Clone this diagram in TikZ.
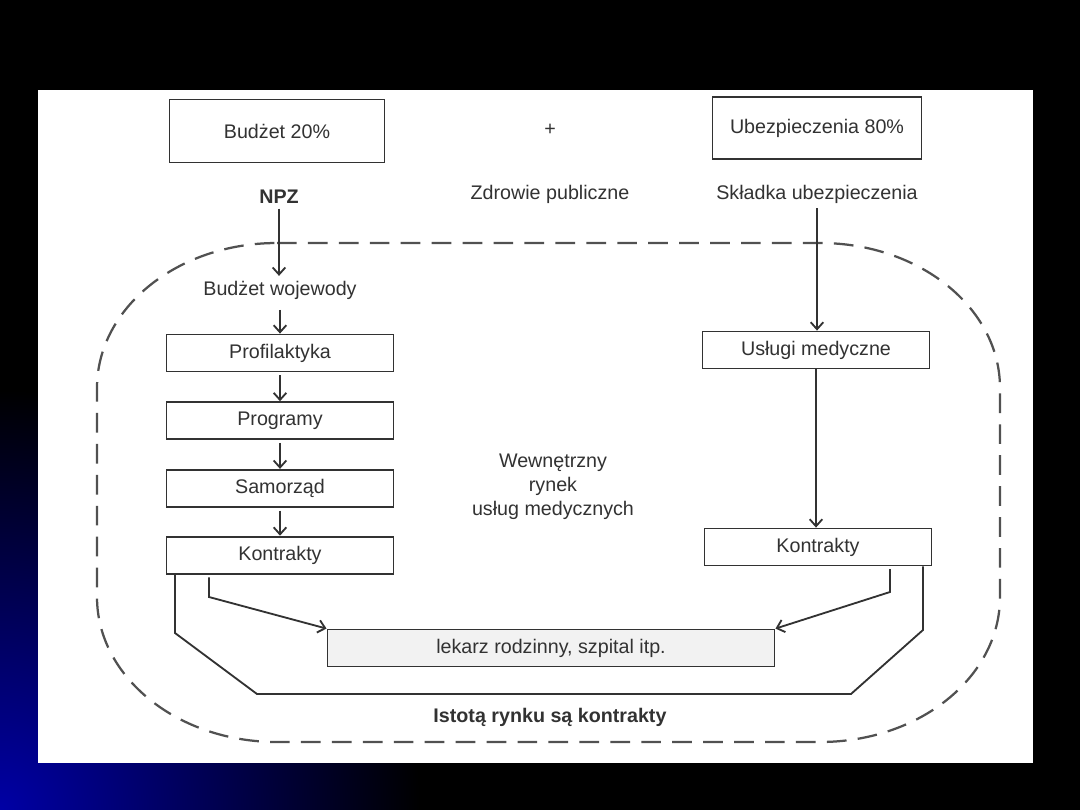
\documentclass[tikz,border=0pt]{standalone}
\usepackage{fontspec}
\setmainfont{Liberation Sans}
\usetikzlibrary{arrows.meta,positioning,calc}
\definecolor{slideblue}{RGB}{0,0,165}
\definecolor{inkgray}{RGB}{50,50,50}

\begin{document}
\begin{tikzpicture}[
      x=0.025cm, y=-0.025cm,
      box/.style={rectangle, draw=inkgray, line width=1.3pt, text=inkgray, font=\fontsize{14}{16}\selectfont, minimum width=5.675cm, minimum height=0.925cm, inner sep=0pt},
      txt/.style={text=inkgray, align=center, font=\fontsize{14}{17}\selectfont},
      arrow/.style={-{Straight Barb[length=5pt,width=9pt]}, line width=1.3pt, inkgray},
      link/.style={line width=1.3pt, inkgray},
      dashframe/.style={dash pattern=on 14pt off 8pt, line width=1.6pt, inkgray!85}
    ]
      \useasboundingbox (0,0) rectangle (1080,810);
      % slide background
      \fill[black] (0,0) rectangle (1080,810);
      \begin{scope}
        \clip (0,0) rectangle (1080,810);
        \shade[inner color=slideblue, outer color=black] (0,810) circle (420);
      \end{scope}
      \fill[white] (38,90) rectangle (1033,763);

      % market frame
      \draw[dashframe] (277,243) -- (820,243)
        arc[start angle=-90, end angle=0, x radius=180, y radius=145] -- (1000,597)
        arc[start angle=0, end angle=90, x radius=180, y radius=145] -- (277,742)
        arc[start angle=90, end angle=180, x radius=180, y radius=145] -- (97,388)
        arc[start angle=180, end angle=270, x radius=180, y radius=145] -- cycle;

      \node[box, minimum width=5.375cm, minimum height=1.575cm] (bud_20) at (277,131) {Budżet 20\%};
      \node[txt] (plus) at (550,130) {+};
      \node[box, minimum width=5.225cm, minimum height=1.55cm] (ube_80) at (817,128) {Ubezpieczenia 80\%};
      \node[txt, font=\fontsize{14}{17}\selectfont\bfseries] (npz) at (279,197) {NPZ};
      \node[txt] (zdrowie) at (550,194) {Zdrowie publiczne};
      \node[txt] (skladka) at (817,194) {Składka ubezpieczenia};
      \node[txt] (wojewoda) at (280,290) {Budżet wojewody};

      \node[box] (prof) at (280,353) {Profilaktyka};
      \node[box, below=0.72cm of prof] (prog) {Programy};
      \node[box, below=0.72cm of prog] (samo) {Samorząd};
      \node[box, below=0.7cm of samo] (kon_l) {Kontrakty};

      \node[box] (uslugi) at (816,350) {Usługi medyczne};
      \node[box] (kon_r) at (818,547) {Kontrakty};

      \node[txt] (rynek) at (553,487) {Wewnętrzny\\rynek\\usług medycznych};
      \node[box, minimum width=11.175cm, fill=gray!10] (lekarz) at (551,648) {lekarz rodzinny, szpital itp.};
      \node[txt, font=\fontsize{14}{17}\selectfont\bfseries] (istota) at (550,717) {Istotą rynku są kontrakty};

      \coordinate (l_in) at (209,597);
      \coordinate (r_in) at (890,592);
      \coordinate (l_out) at (175,633);
      \coordinate (l_bot) at (257,694);
      \coordinate (r_bot) at (851,694);
      \coordinate (r_out) at (923,630);

      \draw[arrow] (npz.south) -- (npz.south |- wojewoda.north);
      \draw[arrow, shorten <=4pt] (wojewoda) -- (prof);
      \draw[arrow, shorten <=2pt] (prof) -- (prog);
      \draw[arrow, shorten <=2pt] (prog) -- (samo);
      \draw[arrow, shorten <=2pt] (samo) -- (kon_l);
      \draw[arrow] (skladka.south) -- (skladka.south |- uslugi.north);
      \draw[arrow] (uslugi.south) -- (uslugi.south |- kon_r.north);

      \draw[arrow, shorten <=2pt] (kon_l.south -| l_in) -- (l_in) -- (lekarz.north west);
      \draw[arrow, shorten <=2pt] (kon_r.south -| r_in) -- (r_in) -- (lekarz.north east);
      \draw[link] (kon_l.south -| l_out) -- (l_out) -- (l_bot) -- (r_bot) -- (r_out) -- (kon_r.south -| r_out);
    \end{tikzpicture}
\end{document}
